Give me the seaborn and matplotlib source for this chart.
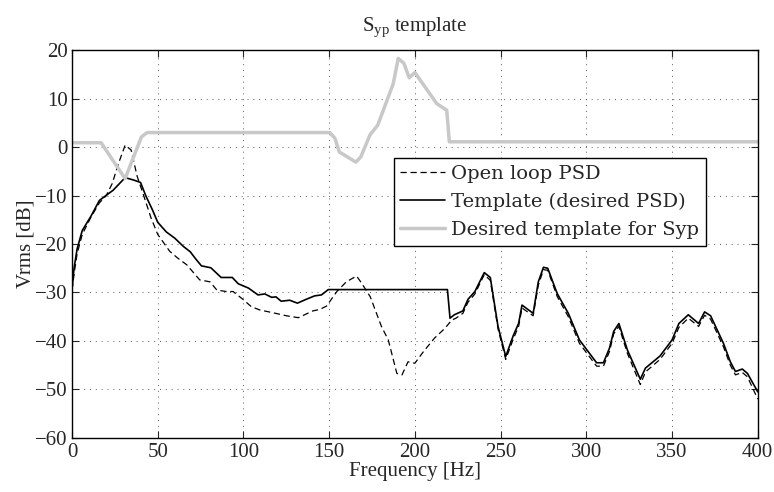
import numpy as np
import pandas as pd
import matplotlib
matplotlib.use("Agg")
import matplotlib.pyplot as plt
import seaborn as sns

# Open loop PSD (dashed)
ol_freq = [0, 1.5, 3, 6, 11, 16, 20, 23.5, 27, 31, 34.5, 38, 42, 46, 50, 57, 62,
           67, 74.5, 80.5, 84.5, 90, 94, 100, 104.5, 109.5, 117.5, 125, 132, 140.5,
           144.5, 148.5, 154.5, 160, 166, 169, 174, 180.5, 184.5, 189.5, 192.5, 196,
           200, 205, 211.5, 217.5, 221.5, 224, 228, 231, 235, 240.5, 244, 248.5, 253,
           257.5, 260.5, 262.5, 269, 272, 275, 277.5, 283, 289.5, 296, 306, 310,
           313.5, 316, 319, 324, 331.5, 334.5, 343, 350, 354, 359.5, 365.5, 369,
           372.5, 380, 384, 387, 391, 394, 400]
ol_db = [-29.5, -25.5, -22, -18, -14.5, -11.5, -10, -7.5, -3.5, 0.4, -0.6, -6, -10.2,
         -14.5, -18, -21.5, -23, -24.3, -27.4, -27.8, -29.5, -29.8, -29.8, -31.5,
         -32.9, -33.6, -34.2, -34.8, -35.2, -33.8, -33.5, -32.8, -29.8, -27.8, -26.6,
         -28.1, -30.9, -37, -39.8, -46.7, -47, -44.3, -44.6, -42.2, -39.4, -37.4,
         -35.7, -35.3, -34.3, -32, -30.3, -26.3, -27.5, -37.5, -43.8, -39.5, -37,
         -33.2, -34.8, -28.5, -25.3, -25.4, -30.8, -35, -40.5, -45.2, -45.2, -42.2,
         -38.5, -37, -42.6, -49, -46.4, -43.8, -40.5, -37.2, -35.3, -37, -34.7,
         -35.5, -41.2, -45, -47, -46.5, -47.4, -52]

# Template (desired PSD)
tpl_freq = [0, 1.2, 3, 6, 11, 16, 19, 24, 31, 36, 40, 43, 47, 50, 55, 60, 65, 69,
            72, 75.5, 81, 87, 93.5, 97, 103, 108.5, 112.5, 116.5, 119, 122, 127,
            131.5, 136, 141.5, 145.5, 149.5, 152, 219, 220.5, 223, 228, 231, 235,
            240.5, 244, 248.5, 253, 257.5, 260.5, 262.5, 269, 272, 275, 277.5, 283,
            289.5, 296, 306, 310, 313.5, 316, 319, 324, 331.5, 334.5, 343, 350, 354,
            359.5, 365.5, 369, 372.5, 380, 384, 387, 391, 394, 400]
tpl_db = [-29.5, -25, -21, -17.2, -14.3, -11, -10.2, -8.9, -6.3, -6.8, -7.3, -10,
          -13, -15.5, -17.5, -18.8, -20.5, -21.6, -23, -24.5, -24.9, -26.9, -26.9,
          -28.2, -29.1, -30.5, -30.3, -31, -30.9, -31.8, -31.6, -32.2, -31.5, -30.7,
          -30.5, -29.4, -29.4, -29.4, -35.3, -34.6, -33.8, -31.4, -29.8, -25.9,
          -26.9, -37, -43.2, -38.8, -36.4, -32.6, -34.3, -27.8, -24.8, -25, -30.2,
          -34.3, -39.8, -44.5, -44.5, -41.5, -38, -36.4, -41.9, -47.9, -45.6, -43.1,
          -39.8, -36.4, -34.6, -36.4, -34, -34.8, -40.5, -44.3, -46.3, -45.8, -46.7,
          -50.5]

# Desired template for Syp
syp_freq = [0, 17, 31, 40.5, 43.8, 150.4, 153.4, 155.9, 165.6, 168.5, 173.8, 178.3,
            187.4, 190.3, 193.6, 196.7, 200, 212.7, 218.6, 220.1, 400]
syp_db = [0.9, 0.9, -6.5, 2.1, 3, 3, 1.8, -1, -3.1, -2, 2.5, 4.5, 13.1, 18.3, 17.3,
          14.3, 15.4, 9, 7.6, 1.1, 1.1]

sns.set_style("ticks")
plt.rcParams["font.family"] = ["Liberation Serif", "DejaVu Serif"]
plt.rcParams["mathtext.fontset"] = "custom"
plt.rcParams["mathtext.rm"] = "Liberation Serif"
plt.rcParams["mathtext.it"] = "Liberation Serif"

fig = plt.figure(figsize=(7.74, 4.92), dpi=100)
ax = fig.add_axes([0.093, 0.11, 0.886, 0.788])

ol = pd.DataFrame({"f": ol_freq, "db": ol_db})
tpl = pd.DataFrame({"f": tpl_freq, "db": tpl_db})
syp = pd.DataFrame({"f": syp_freq, "db": syp_db})

sns.lineplot(data=ol, x="f", y="db", ax=ax, color="black", lw=0.9,
             estimator=None, sort=False, label="Open loop PSD")
ax.lines[-1].set_dashes((5, 3))
sns.lineplot(data=tpl, x="f", y="db", ax=ax, color="black", lw=1.2,
             estimator=None, sort=False, label="Template (desired PSD)")
sns.lineplot(data=syp, x="f", y="db", ax=ax, color="#c8c8c8", lw=2.5,
             estimator=None, sort=False, label="Desired template for Syp")

ax.set_xlim(0, 400)
ax.set_ylim(-60, 20)
ax.set_xticks(np.arange(0, 401, 50))
ax.set_yticks(np.arange(-60, 21, 10))
ax.grid(True, linestyle=(0, (1, 5)), color="0.35", lw=0.7)
ax.tick_params(direction="in", top=True, right=True, labelsize=15, length=5)
ax.tick_params(axis="x", pad=4)
ax.tick_params(axis="y", pad=3)
for s in ax.spines.values():
    s.set_linewidth(1.0)
    s.set_color("black")

ax.set_xlabel("Frequency [Hz]", fontsize=15, labelpad=0)
ax.set_ylabel("Vrms [dB]", fontsize=15, labelpad=0)
ax.set_title(r"$\mathregular{S_{yp}}$ template", fontsize=15, pad=14)

leg = ax.legend(loc="upper left", bbox_to_anchor=(0.469, 0.721), borderaxespad=0,
                fancybox=False, framealpha=1, edgecolor="black",
                prop={"family": "DejaVu Serif", "size": 14},
                handlelength=2.3, handletextpad=0.3, labelspacing=0.5,
                borderpad=0.35)
leg.get_frame().set_linewidth(1.0)

fig.savefig("out.png", dpi=100)
